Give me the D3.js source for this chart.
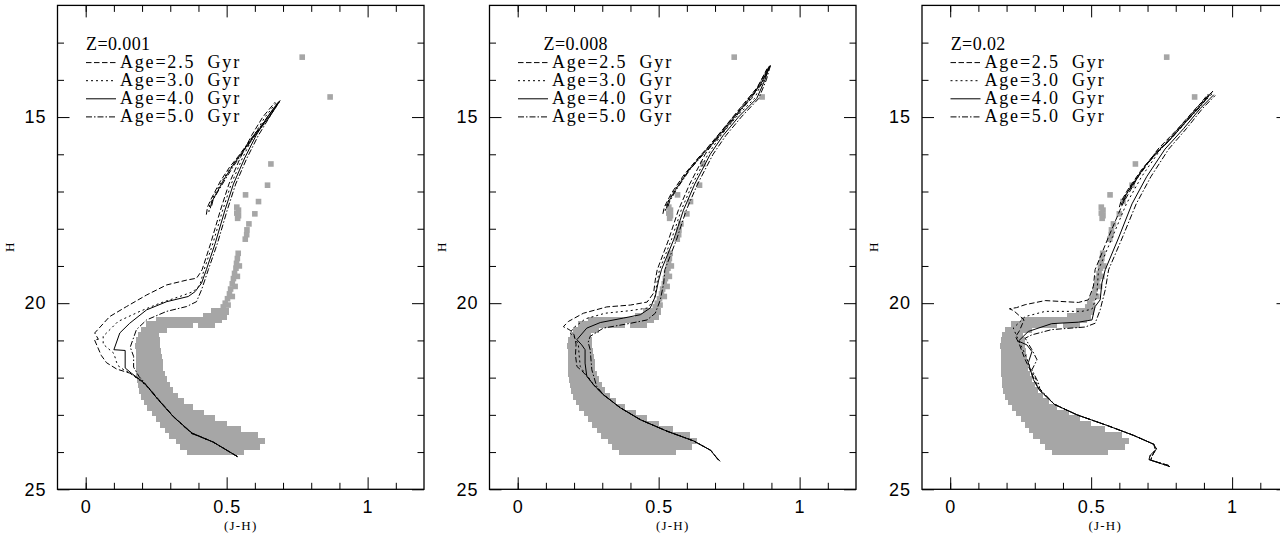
<!DOCTYPE html>
<html><head><meta charset="utf-8">
<script src="https://cdn.jsdelivr.net/npm/d3@7"></script>
<style>body{margin:0;background:#fff}svg{display:block}</style>
</head><body>
<svg id="chart" width="1280" height="535"></svg>
<script>
// ---------- labels ----------
const panelLabels = ["Z=0.001", "Z=0.008", "Z=0.02"];
const ageLabels = ["Age=2.5 Gyr", "Age=3.0 Gyr", "Age=4.0 Gyr", "Age=5.0 Gyr"];
const xLabel = "(J-H)";
const yLabel = "H";
const xMajorTicks = [0, 0.5, 1];
const xTickLabels = ["0", "0.5", "1"];
const xMinorTicks = [0, 0.1, 0.2, 0.3, 0.4, 0.6, 0.7, 0.8, 0.9, 1.1];
const yMajorTicks = [15, 20, 25];
const yTickLabels = ["15", "20", "25"];
const yMinorTicks = [13, 14, 16, 17, 18, 19, 21, 22, 23, 24];

// ---------- observed stars (same in every panel) ----------
// isolated squares: [J-H, H]
const starPoints = [
  [0.768,13.39],[0.867,14.46],[0.657,16.26],[0.645,16.83],[0.567,17.09],[0.613,17.27],
  [0.536,17.42],[0.542,17.5],[0.536,17.58],[0.542,17.65],[0.539,17.72],[0.6,17.6],
  [0.579,17.87],[0.572,18.03],[0.571,18.16],[0.566,18.28],
  [0.541,18.66],[0.538,18.8],[0.535,18.93],[0.545,19.0],[0.533,19.06],[0.528,19.2],[0.538,19.28],
  [0.524,19.34],[0.52,19.48],[0.53,19.55],[0.514,19.62],[0.51,19.75],[0.52,19.82],
  [0.503,19.88],[0.495,20.0],[0.505,20.05],[0.488,20.1]
];
// dense band rows: [H, J-H min, J-H max]
const starBand = [
  [20.22,0.455,0.50],[20.35,0.425,0.49],
  [20.45,0.26,0.385],[20.45,0.405,0.475],[20.58,0.225,0.37],[20.58,0.41,0.45],
  [20.72,0.205,0.28],[20.87,0.195,0.25],[21.0,0.19,0.255],[21.15,0.186,0.255],
  [21.3,0.19,0.258],[21.45,0.19,0.262],[21.6,0.19,0.265],[21.75,0.19,0.265],
  [21.9,0.19,0.272],[22.05,0.192,0.28],[22.2,0.195,0.29],[22.35,0.198,0.30],
  [22.5,0.205,0.318],[22.65,0.215,0.34],[22.8,0.228,0.37],[22.95,0.245,0.41],
  [23.1,0.26,0.45],[23.25,0.275,0.49],[23.4,0.29,0.54],[23.55,0.305,0.6],
  [23.7,0.33,0.625],[23.85,0.345,0.61],[23.98,0.37,0.55]
];

// ---------- isochrones Z=0.001 ----------
const z001_a25 = [[0.538,24.12],[0.452,23.73],[0.376,23.49],[0.311,23.04],[0.258,22.58],[0.225,22.28],[0.2,22.1],[0.157,21.88],[0.11,21.77],[0.074,21.6],[0.055,21.4],[0.031,20.98],[0.045,20.97],[0.032,20.8],[0.085,20.36],[0.145,20.09],[0.216,19.78],[0.287,19.51],[0.358,19.38],[0.393,19.33],[0.405,19.2],[0.413,19.1],[0.443,18.4],[0.478,17.5],[0.508,16.8],[0.548,16.1],[0.588,15.5],[0.628,15.0],[0.672,14.6]];
const z001_a30 = [[0.538,24.12],[0.452,23.73],[0.376,23.5],[0.311,23.05],[0.258,22.6],[0.225,22.29],[0.2,22.12],[0.157,21.88],[0.12,21.72],[0.11,21.6],[0.1,21.35],[0.062,21.1],[0.062,20.89],[0.115,20.49],[0.192,20.22],[0.263,20.0],[0.334,19.82],[0.381,19.69],[0.405,19.51],[0.42,19.1],[0.451,18.4],[0.486,17.5],[0.516,16.8],[0.556,16.1],[0.596,15.5],[0.636,15.0],[0.678,14.6]];
const z001_a40 = [[0.538,24.12],[0.452,23.73],[0.378,23.49],[0.37,23.44],[0.311,23.05],[0.258,22.6],[0.225,22.3],[0.204,22.12],[0.162,21.88],[0.14,21.74],[0.14,21.27],[0.1,21.25],[0.121,20.8],[0.156,20.54],[0.216,20.18],[0.287,19.96],[0.364,19.82],[0.388,19.69],[0.411,19.46],[0.428,19.1],[0.459,18.4],[0.494,17.5],[0.524,16.8],[0.564,16.1],[0.604,15.5],[0.644,15.0],[0.685,14.58]];
const z001_a50 = [[0.538,24.12],[0.452,23.73],[0.376,23.5],[0.311,23.05],[0.258,22.6],[0.225,22.3],[0.205,22.1],[0.19,21.98],[0.17,21.72],[0.17,21.43],[0.158,21.18],[0.18,20.71],[0.216,20.45],[0.287,20.22],[0.358,20.09],[0.393,19.96],[0.411,19.64],[0.435,19.1],[0.467,18.4],[0.502,17.5],[0.532,16.8],[0.572,16.1],[0.612,15.5],[0.652,15.0],[0.69,14.55]];
const z001_agb25 = [[0.428,17.62],[0.432,17.42],[0.445,17.2],[0.478,16.72],[0.51,16.35],[0.545,16.02],[0.59,15.55],[0.635,15.1],[0.672,14.72]];
const z001_agb30 = [[0.437,17.55],[0.44,17.35],[0.452,17.15],[0.485,16.7],[0.515,16.35],[0.548,16.0],[0.595,15.5],[0.642,15.05],[0.68,14.65]];
const z001_agb40 = [[0.442,17.45],[0.447,17.28],[0.46,17.1],[0.49,16.68],[0.52,16.32],[0.55,16.0],[0.6,15.48],[0.648,15.02],[0.685,14.6]];
const z001_agb50 = [[0.447,17.38],[0.452,17.22],[0.465,17.05],[0.497,16.65],[0.526,16.3],[0.555,15.98],[0.605,15.45],[0.652,15.0],[0.688,14.58]];

// ---------- isochrones Z=0.008 ----------
const z008_a25 = [[0.71,24.2],[0.698,24.08],[0.684,23.95],[0.624,23.7],[0.53,23.44],[0.435,23.13],[0.364,22.81],[0.304,22.46],[0.269,22.19],[0.245,21.96],[0.228,21.82],[0.21,21.7],[0.205,21.4],[0.207,21.1],[0.2,20.85],[0.185,20.72],[0.162,20.63],[0.18,20.49],[0.233,20.27],[0.316,20.1],[0.4,20.05],[0.459,19.97],[0.482,19.73],[0.488,19.38],[0.495,19.1],[0.535,18.3],[0.57,17.5],[0.61,16.8],[0.665,16.0],[0.71,15.5],[0.765,15.0],[0.83,14.5],[0.865,14.0],[0.888,13.66]];
const z008_a30 = [[0.713,24.22],[0.7,24.1],[0.684,23.95],[0.624,23.7],[0.53,23.44],[0.435,23.13],[0.364,22.81],[0.304,22.46],[0.269,22.19],[0.25,21.98],[0.235,21.85],[0.222,21.7],[0.218,21.4],[0.215,21.1],[0.2,20.9],[0.185,20.8],[0.2,20.65],[0.24,20.42],[0.31,20.27],[0.4,20.2],[0.46,20.13],[0.485,19.9],[0.494,19.45],[0.503,19.1],[0.545,18.3],[0.58,17.5],[0.62,16.8],[0.675,16.0],[0.72,15.5],[0.775,15.0],[0.84,14.5],[0.871,14.0],[0.891,13.64]];
const z008_a40 = [[0.715,24.22],[0.7,24.1],[0.684,23.95],[0.624,23.7],[0.53,23.44],[0.435,23.13],[0.364,22.81],[0.304,22.46],[0.269,22.19],[0.245,21.96],[0.239,21.61],[0.239,21.25],[0.227,21.12],[0.21,20.98],[0.245,20.67],[0.293,20.52],[0.375,20.4],[0.435,20.31],[0.47,20.13],[0.488,19.82],[0.5,19.38],[0.51,19.1],[0.553,18.3],[0.588,17.5],[0.628,16.8],[0.683,16.0],[0.728,15.5],[0.783,15.0],[0.848,14.5],[0.877,14.0],[0.894,13.62]];
const z008_a50 = [[0.718,24.25],[0.702,24.12],[0.686,23.96],[0.624,23.7],[0.53,23.44],[0.435,23.13],[0.364,22.81],[0.304,22.46],[0.28,22.23],[0.263,21.79],[0.257,21.25],[0.25,21.05],[0.257,20.89],[0.304,20.67],[0.4,20.54],[0.459,20.45],[0.488,20.27],[0.506,19.91],[0.518,19.46],[0.522,19.1],[0.563,18.3],[0.598,17.5],[0.638,16.8],[0.693,16.0],[0.738,15.5],[0.793,15.0],[0.855,14.5],[0.882,14.0],[0.897,13.6]];
const z008_agb25 = [[0.515,17.6],[0.52,17.42],[0.545,17.05],[0.59,16.55],[0.64,16.1],[0.67,15.85],[0.72,15.4],[0.79,14.75],[0.85,14.2],[0.885,13.7]];
const z008_agb30 = [[0.523,17.52],[0.527,17.35],[0.553,17.0],[0.598,16.5],[0.648,16.05],[0.677,15.8],[0.727,15.35],[0.797,14.7],[0.857,14.15],[0.89,13.68]];
const z008_agb40 = [[0.528,17.45],[0.533,17.3],[0.56,16.95],[0.605,16.45],[0.655,16.0],[0.684,15.77],[0.734,15.32],[0.804,14.67],[0.862,14.12],[0.893,13.65]];
const z008_agb50 = [[0.533,17.4],[0.54,17.25],[0.567,16.9],[0.612,16.4],[0.662,15.97],[0.69,15.75],[0.74,15.3],[0.81,14.65],[0.867,14.1],[0.896,13.63]];

// ---------- isochrones Z=0.02 ----------
const z02_a25 = [[0.775,24.36],[0.712,24.22],[0.715,24.12],[0.728,23.95],[0.722,23.79],[0.65,23.55],[0.555,23.28],[0.45,23.0],[0.37,22.72],[0.315,22.32],[0.3,22.1],[0.29,21.9],[0.265,21.5],[0.245,21.1],[0.232,20.9],[0.245,20.75],[0.262,20.45],[0.225,20.2],[0.21,20.15],[0.235,20.12],[0.266,20.04],[0.337,19.93],[0.455,19.98],[0.49,19.91],[0.508,19.55],[0.514,19.1],[0.56,18.25],[0.612,17.33],[0.667,16.6],[0.737,15.86],[0.808,15.31],[0.872,14.76],[0.925,14.35]];
const z02_a30 = [[0.779,24.39],[0.705,24.2],[0.71,24.08],[0.732,23.92],[0.722,23.79],[0.65,23.55],[0.555,23.28],[0.45,23.0],[0.37,22.72],[0.315,22.32],[0.301,22.0],[0.29,21.85],[0.266,21.38],[0.236,20.89],[0.224,20.67],[0.266,20.36],[0.337,20.22],[0.467,20.22],[0.503,20.16],[0.52,19.82],[0.526,19.1],[0.574,18.25],[0.625,17.33],[0.679,16.6],[0.747,15.86],[0.816,15.31],[0.878,14.76],[0.93,14.37]];
const z02_a40 = [[0.779,24.39],[0.705,24.2],[0.71,24.08],[0.732,23.92],[0.722,23.79],[0.65,23.55],[0.555,23.28],[0.45,23.0],[0.37,22.72],[0.315,22.32],[0.295,22.05],[0.277,21.6],[0.29,21.3],[0.272,21.12],[0.242,21.02],[0.277,20.76],[0.36,20.55],[0.455,20.51],[0.503,20.45],[0.514,20.09],[0.532,19.91],[0.538,19.46],[0.55,19.1],[0.597,18.25],[0.645,17.33],[0.697,16.6],[0.762,15.86],[0.828,15.31],[0.888,14.76],[0.935,14.4]];
const z02_a50 = [[0.775,24.36],[0.712,24.22],[0.715,24.12],[0.728,23.95],[0.722,23.79],[0.65,23.55],[0.555,23.28],[0.45,23.0],[0.37,22.72],[0.318,22.3],[0.313,22.14],[0.29,21.79],[0.308,21.52],[0.29,21.25],[0.266,20.94],[0.29,20.85],[0.36,20.71],[0.479,20.64],[0.514,20.54],[0.532,20.18],[0.55,19.64],[0.562,19.1],[0.61,18.25],[0.66,17.33],[0.712,16.6],[0.775,15.86],[0.838,15.31],[0.896,14.76],[0.94,14.42]];
const z02_agb25 = [[0.6,17.42],[0.605,17.28],[0.63,16.95],[0.68,16.4],[0.73,15.95],[0.762,15.72],[0.81,15.3],[0.87,14.8],[0.915,14.38]];
const z02_agb30 = [[0.607,17.36],[0.612,17.22],[0.637,16.9],[0.687,16.35],[0.737,15.9],[0.768,15.7],[0.817,15.27],[0.877,14.77],[0.922,14.35]];
const z02_agb40 = [[0.612,17.3],[0.618,17.16],[0.643,16.85],[0.693,16.3],[0.743,15.87],[0.773,15.66],[0.822,15.24],[0.882,14.74],[0.928,14.33]];
const z02_agb50 = [[0.617,17.25],[0.623,17.1],[0.649,16.8],[0.699,16.26],[0.749,15.84],[0.778,15.63],[0.827,15.21],[0.887,14.72],[0.932,14.3]];

// ---------- assemble ----------
const panels = [
  { label: panelLabels[0], iso: [z001_a25, z001_a30, z001_a40, z001_a50], agb: [z001_agb25, z001_agb30, z001_agb40, z001_agb50] },
  { label: panelLabels[1], iso: [z008_a25, z008_a30, z008_a40, z008_a50], agb: [z008_agb25, z008_agb30, z008_agb40, z008_agb50] },
  { label: panelLabels[2], iso: [z02_a25, z02_a30, z02_a40, z02_a50], agb: [z02_agb25, z02_agb30, z02_agb40, z02_agb50] }
];

// ---------- layout & style ----------
const panelLeft = [57.5, 489.5, 922];
const panelW = 366.5, plotTop = 5.4, plotBottom = 489.3;
const zOffset = [28.5, 54, 28.7];
const dashes = ["5.5,2.5", "2,3", null, "6,2,1.5,2"];
const gray = "#a6a6a6";
const sq = 5.6;      // marker side
const rowH = 6.8;    // band row height (rows overlap slightly)
const tickFont = "'Liberation Sans', Arial, sans-serif";
const legendFont = "'Liberation Serif', 'Times New Roman', serif";

const svg = d3.select("#chart");

panels.forEach((p, i) => {
  const L = panelLeft[i], R = L + panelW;
  const x = d3.scaleLinear().domain([-0.1, 1.2]).range([L, R]);
  const y = d3.scaleLinear().domain([12, 25]).range([plotTop, plotBottom]);
  const g = svg.append("g");

  // observed stars
  g.append("g").attr("shape-rendering", "crispEdges").selectAll("rect").data(starBand).join("rect")
    .attr("x", d => x(d[1]) - sq / 2).attr("width", d => x(d[2]) - x(d[1]) + sq)
    .attr("y", d => y(d[0]) - rowH / 2).attr("height", rowH).attr("fill", gray);
  g.append("g").selectAll("rect").data(starPoints).join("rect")
    .attr("x", d => x(d[0]) - sq / 2).attr("y", d => y(d[1]) - sq / 2)
    .attr("width", sq).attr("height", sq).attr("fill", gray);

  // isochrones
  const line = d3.line().x(d => x(d[0])).y(d => y(d[1]));
  p.iso.forEach((arr, k) => {
    g.append("path").attr("d", line(arr)).attr("fill", "none").attr("stroke", "#000")
      .attr("stroke-width", 1).attr("stroke-dasharray", dashes[k]);
  });
  p.agb.forEach((arr, k) => {
    g.append("path").attr("d", line(arr)).attr("fill", "none").attr("stroke", "#000")
      .attr("stroke-width", 1).attr("stroke-dasharray", dashes[k]);
  });

  // axes (ticks inward on all sides)
  function addAxis(gen, tr) {
    const a = g.append("g").attr("transform", tr).call(gen);
    a.select(".domain").remove();
    a.selectAll("line").attr("stroke", "#000").attr("stroke-width", 1);
    a.attr("font-family", tickFont).attr("font-size", 18);
    a.selectAll("text").attr("fill", "#000").attr("letter-spacing", "1px");
    return a;
  }
  addAxis(d3.axisBottom(x).tickValues(xMinorTicks).tickSize(-6.5).tickFormat(""), `translate(0,${plotBottom})`);
  addAxis(d3.axisBottom(x).tickValues(xMajorTicks).tickSize(-12).tickPadding(11).tickFormat((d, j) => xTickLabels[j]), `translate(0,${plotBottom})`);
  addAxis(d3.axisTop(x).tickValues(xMinorTicks).tickSize(-6.5).tickFormat(""), `translate(0,${plotTop})`);
  addAxis(d3.axisTop(x).tickValues(xMajorTicks).tickSize(-12).tickFormat(""), `translate(0,${plotTop})`);
  addAxis(d3.axisLeft(y).tickValues(yMinorTicks).tickSize(-6.5).tickFormat(""), `translate(${L},0)`);
  addAxis(d3.axisLeft(y).tickValues(yMajorTicks).tickSize(-12).tickPadding(11).tickFormat((d, j) => yTickLabels[j]), `translate(${L},0)`);
  addAxis(d3.axisRight(y).tickValues(yMinorTicks).tickSize(-6.5).tickFormat(""), `translate(${R},0)`);
  addAxis(d3.axisRight(y).tickValues(yMajorTicks).tickSize(-12).tickFormat(""), `translate(${R},0)`);

  // frame
  g.append("rect").attr("x", L).attr("y", plotTop).attr("width", panelW).attr("height", plotBottom - plotTop)
    .attr("fill", "none").attr("stroke", "#000").attr("stroke-width", 1.3);

  // axis titles
  g.append("text").attr("x", (L + R) / 2).attr("y", 529.5).attr("text-anchor", "middle")
    .attr("font-family", legendFont).attr("font-size", 13).attr("letter-spacing", "1.2px").text(xLabel);
  g.append("text").attr("transform", `translate(${L - 44},${(plotTop + plotBottom) / 2}) rotate(-90)`)
    .attr("text-anchor", "middle").attr("font-family", legendFont).attr("font-size", 13).text(yLabel);

  // legend
  g.append("text").attr("x", L + zOffset[i]).attr("y", 49.5)
    .attr("font-family", legendFont).attr("font-size", 18).attr("letter-spacing", "0.4px").text(p.label);
  ageLabels.forEach((lab, k) => {
    const by = 67.6 + k * 18.1;
    g.append("line").attr("x1", L + 28.5).attr("x2", L + 58.5).attr("y1", by - 5).attr("y2", by - 5)
      .attr("stroke", "#000").attr("stroke-width", 1).attr("stroke-dasharray", dashes[k]);
    g.append("text").attr("x", L + 62.5).attr("y", by)
      .attr("font-family", legendFont).attr("font-size", 18).attr("letter-spacing", "1.8px")
      .attr("word-spacing", "6px").text(lab);
  });
});
</script>
</body></html>
